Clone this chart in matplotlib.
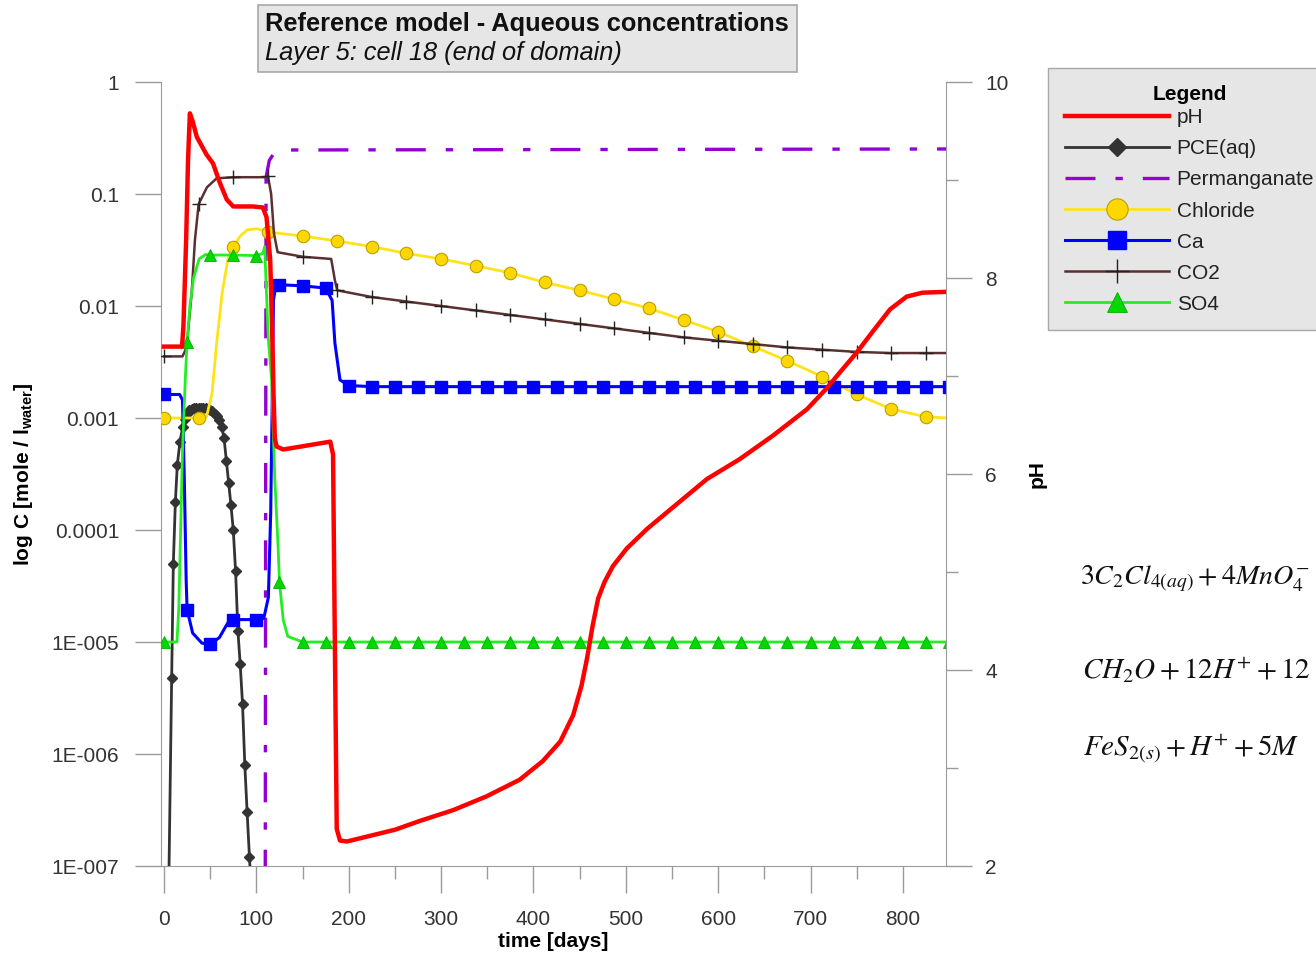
import numpy as np
import matplotlib
matplotlib.use('Agg')
import matplotlib.pyplot as plt
from matplotlib.patches import Rectangle
from matplotlib.ticker import FixedLocator, FixedFormatter, NullLocator

plt.rcParams['font.family'] = ['Liberation Sans', 'DejaVu Sans']
plt.rcParams['mathtext.fontset'] = 'custom'
plt.rcParams['mathtext.rm'] = 'Liberation Sans'
plt.rcParams['mathtext.bf'] = 'Liberation Sans:bold'
plt.rcParams['mathtext.it'] = 'Liberation Sans:italic'

# ---------------- data (time in days) ----------------
ph_t = [0, 19.5, 21, 24, 26, 28, 31, 35.5, 46, 53, 60.5, 68, 75, 96, 107, 111, 115, 117, 118.5,
        120, 122, 129, 180, 183, 185, 187, 190.5, 198, 250, 277, 313, 349, 385, 410, 429, 443,
        452, 458, 464, 470, 477, 486, 501, 523, 551, 588, 623, 659, 696, 717, 732, 750, 767,
        786, 804, 821, 850]
ph_val = [7.30, 7.30, 7.5, 8.4, 9.2, 9.68, 9.6, 9.44, 9.26, 9.17, 8.97, 8.80, 8.73, 8.73, 8.72,
          8.62, 8.18, 7.5, 6.84, 6.36, 6.28, 6.25, 6.33, 6.2, 4.24, 2.38, 2.26, 2.25, 2.37, 2.46,
          2.57, 2.71, 2.88, 3.07, 3.27, 3.54, 3.84, 4.12, 4.45, 4.73, 4.90, 5.06, 5.24, 5.44,
          5.66, 5.95, 6.15, 6.39, 6.66, 6.87, 7.04, 7.24, 7.45, 7.68, 7.81, 7.85, 7.86]

pce_t = [4.8, 8.3, 10.1, 12.3, 14.4, 17.3, 20.2, 22.5, 25, 27.5, 30, 32.5, 35, 37.5, 40, 42.5,
         45, 47.5, 50, 52.5, 55, 57.5, 60, 62.5, 65, 67.5, 70, 72.5, 75, 77.5, 80, 82.5, 85,
         87.5, 90, 92.5, 95]
pce_log = [-7.4, -5.32, -4.30, -3.75, -3.42, -3.21, -3.08, -3.01, -2.96, -2.93, -2.92, -2.91,
           -2.91, -2.91, -2.91, -2.91, -2.91, -2.92, -2.93, -2.94, -2.96, -2.98, -3.02, -3.08,
           -3.18, -3.38, -3.58, -3.78, -4.00, -4.37, -4.90, -5.20, -5.55, -6.10, -6.52, -6.92,
           -7.3]

mn_t = [108.5, 109.5, 110, 110.5, 114, 120, 135, 850]
mn_log = [-9.0, -8.0, -4.0, -0.85, -0.70, -0.625, -0.607, -0.598]

cl_t = [0, 37.5, 46, 52, 57, 63, 69, 75, 82, 90, 101, 112.5, 150, 187.5, 225, 262.5, 300,
        337.5, 375, 412.5, 450, 487.5, 525, 562.5, 600, 637.5, 675, 712.5, 750, 787.5, 825, 850]
cl_log = [-3.0, -3.0, -2.99, -2.78, -2.33, -1.88, -1.59, -1.47, -1.38, -1.32, -1.31, -1.34,
          -1.375, -1.42, -1.47, -1.53, -1.58, -1.64, -1.705, -1.79, -1.86, -1.94, -2.02,
          -2.125, -2.23, -2.36, -2.49, -2.63, -2.79, -2.92, -2.99, -3.0]
cl_mark_t = [0, 37.5, 75, 112.5, 150, 187.5, 225, 262.5, 300, 337.5, 375, 412.5, 450, 487.5,
             525, 562.5, 600, 637.5, 675, 712.5, 750, 787.5, 825]

ca_t = [0, 17, 20, 22, 24, 25, 31, 41, 50, 60, 69, 75, 90, 100, 108, 113, 115.5, 117, 118.5,
        121, 125, 150, 175, 182, 185, 190.5, 200, 225, 250, 275, 300, 325, 350, 375, 400, 425,
        450, 475, 500, 525, 550, 575, 600, 625, 650, 675, 700, 725, 750, 775, 800, 825, 850]
ca_log = [-2.79, -2.79, -2.84, -3.55, -4.45, -4.71, -4.92, -5.01, -5.02, -4.96, -4.83, -4.80,
          -4.80, -4.80, -4.79, -4.60, -3.85, -2.96, -1.95, -1.82, -1.81, -1.82, -1.84, -1.95,
          -2.33, -2.66, -2.71, -2.72, -2.72, -2.72, -2.72, -2.72, -2.72, -2.72, -2.72, -2.72,
          -2.72, -2.72, -2.72, -2.72, -2.72, -2.72, -2.72, -2.72, -2.72, -2.72, -2.72, -2.72,
          -2.72, -2.72, -2.72, -2.72, -2.72]
ca_mark_t = [0, 25, 50, 75, 100, 125, 150, 175, 200, 225, 250, 275, 300, 325, 350, 375, 400,
             425, 450, 475, 500, 525, 550, 575, 600, 625, 650, 675, 700, 725, 750, 775, 800,
             825, 850]

co2_t = [0, 20, 24.5, 30, 33.5, 37.5, 46.5, 57, 75, 100, 110, 112.5, 116, 119, 123, 150, 181,
         185, 187.5, 225, 262.5, 300, 337.5, 375, 412.5, 450, 487.5, 525, 562.5, 600, 637.5,
         675, 712.5, 750, 787.5, 825, 850]
co2_log = [-2.45, -2.45, -2.37, -1.88, -1.41, -1.09, -0.94, -0.86, -0.85, -0.85, -0.85, -0.84,
           -1.0, -1.35, -1.52, -1.56, -1.58, -1.77, -1.86, -1.92, -1.96, -2.00, -2.04, -2.08,
           -2.12, -2.16, -2.20, -2.24, -2.28, -2.31, -2.34, -2.37, -2.39, -2.41, -2.42, -2.42,
           -2.42]
co2_mark_t = cl_mark_t

so4_t = [0, 14, 16, 18, 20, 23, 25, 28, 32, 38, 45, 50, 75, 100, 107, 109, 111, 113, 116.5,
         120, 123.5, 125, 129, 134, 150, 175, 200, 225, 250, 275, 300, 325, 350, 375, 400, 425,
         450, 475, 500, 525, 550, 575, 600, 625, 650, 675, 700, 725, 750, 775, 800, 825, 850]
so4_log = [-5.0, -5.0, -4.7, -4.0, -3.3, -2.66, -2.32, -2.0, -1.75, -1.58, -1.54, -1.545,
           -1.545, -1.55, -1.53, -1.47, -1.9, -2.3, -2.66, -3.55, -4.15, -4.46, -4.80, -4.95,
           -5.0, -5.0, -5.0, -5.0, -5.0, -5.0, -5.0, -5.0, -5.0, -5.0, -5.0, -5.0, -5.0, -5.0,
           -5.0, -5.0, -5.0, -5.0, -5.0, -5.0, -5.0, -5.0, -5.0, -5.0, -5.0, -5.0, -5.0, -5.0,
           -5.0]
so4_mark_t = ca_mark_t

y_ticks = [1e-7, 1e-6, 1e-5, 1e-4, 1e-3, 1e-2, 1e-1, 1]
y_ticklabels = ['1E-007', '1E-006', '1E-005', '0.0001', '0.001', '0.01', '0.1', '1']
x_ticks = [0, 100, 200, 300, 400, 500, 600, 700, 800]
x_minor = [50, 150, 250, 350, 450, 550, 650, 750, 850]
ph_ticks = [2, 4, 6, 8, 10]
ph_minor = [3, 5, 7, 9]

series_labels = ['pH', 'PCE(aq)', 'Permanganate', 'Chloride', 'Ca', 'CO2', 'SO4']

# ---------------- figure ----------------
W, H = 1316, 956
fig = plt.figure(figsize=(W / 100, H / 100), dpi=100)
L, R, T, B = 161, 946, 82, 866
ax = fig.add_axes([L / W, 1 - B / H, (R - L) / W, (B - T) / H])
ax2 = ax.twinx()

def idx(ts, marks):
    return [i for i, t in enumerate(ts) if t in marks]

def conc(v):
    return 10.0 ** np.array(v)

h_pce, = ax.plot(pce_t, conc(pce_log), color='#333333', lw=2, marker='D', ms=5.5,
                 mfc='#333333', mec='#333333', zorder=3)
h_mn, = ax.plot(mn_t, conc(mn_log), color='#9400D3', lw=2.4, dashes=(9, 6, 2.2, 6), zorder=3)
h_cl, = ax.plot(cl_t, conc(cl_log), color='#FFE31A', lw=2, marker='o', ms=9,
                mfc='#FFD700', mec='#B8A000', mew=0.8, markevery=idx(cl_t, cl_mark_t), zorder=3)
h_ca, = ax.plot(ca_t, conc(ca_log), color='#0000FF', lw=2.2, marker='s', ms=8,
                mfc='#0000FF', mec='#0000FF', markevery=idx(ca_t, ca_mark_t), zorder=3)
h_co2, = ax.plot(co2_t, conc(co2_log), color='#5A3030', lw=1.8, marker='+', ms=10,
                 mec='#222222', mew=1.0, markevery=idx(co2_t, co2_mark_t), zorder=3)
h_so4, = ax.plot(so4_t, conc(so4_log), color='#22EE22', lw=2, marker='^', ms=8.5,
                 mfc='#00D800', mec='#00B000', mew=0.6, markevery=idx(so4_t, so4_mark_t), zorder=3)
h_ph, = ax2.plot(ph_t, ph_val, color='#FF0000', lw=3.2, zorder=4, solid_joinstyle='round')

ax.set_yscale('log')
ax.set_ylim(1e-7, 1)
ax.set_xlim(-3.25, 846.6)
ax2.set_ylim(2, 10)

spine_c = '#9a9a9a'
lab_c = '#333333'
for s in ['top', 'right']:
    ax.spines[s].set_visible(False)
for s in ['top', 'left', 'bottom']:
    ax2.spines[s].set_visible(False)
for s in ['left', 'bottom']:
    ax.spines[s].set_color(spine_c)
ax2.spines['right'].set_color(spine_c)

ax.yaxis.set_major_locator(FixedLocator(y_ticks))
ax.yaxis.set_major_formatter(FixedFormatter(y_ticklabels))
ax.yaxis.set_minor_locator(NullLocator())
ax.xaxis.set_major_locator(FixedLocator(x_ticks))
ax.xaxis.set_minor_locator(FixedLocator(x_minor))
ax2.yaxis.set_major_locator(FixedLocator(ph_ticks))
ax2.yaxis.set_minor_locator(FixedLocator(ph_minor))

ax.tick_params(axis='y', which='major', direction='out', length=18.7, width=1, color=spine_c,
               pad=11.5, labelsize=15, labelcolor=lab_c)
ax.tick_params(axis='x', which='major', direction='out', length=19.4, width=1, color=spine_c,
               pad=12, labelsize=15, labelcolor=lab_c)
ax.tick_params(axis='x', which='minor', direction='out', length=9.4, width=1, color=spine_c)
ax2.tick_params(axis='y', which='major', direction='out', length=18.7, width=1, color=spine_c,
                pad=9.4, labelsize=15, labelcolor=lab_c)
ax2.tick_params(axis='y', which='minor', direction='out', length=8.6, width=1, color=spine_c)

ax.set_xlabel('time [days]', fontsize=15, fontweight='bold')
ax.xaxis.set_label_coords(0.5, -0.084)
ax.set_ylabel(r'log C [mole / l$_{\mathbf{water}}$]', fontsize=15, fontweight='bold')
ax.yaxis.label.set_va('center')
ax.yaxis.label.set_ha('center')
ax.yaxis.set_label_coords((24 - L) / (R - L), 0.5)
ax2.set_ylabel('pH', fontsize=15, fontweight='bold', rotation=90)
ax2.yaxis.label.set_va('center')
ax2.yaxis.label.set_ha('center')
ax2.yaxis.set_label_coords((1037 - L) / (R - L), 0.5)

# title box
fig.patches.append(Rectangle((258 / W, 1 - 72 / H), (797 - 258) / W, (72 - 5) / H,
                             transform=fig.transFigure, facecolor='#E6E6E6',
                             edgecolor='#A8A8A8', lw=1.2, zorder=0))
fig.text(265 / W, 1 - 24 / H, 'Reference model - Aqueous concentrations', fontsize=18.3,
         fontweight='bold', va='center', ha='left', color='#111111')
fig.text(265 / W, 1 - 53 / H, 'Layer 5: cell 18 (end of domain)', fontsize=18.3,
         fontstyle='italic', va='center', ha='left', color='#111111')

# legend
handles = [h_ph, h_pce, h_mn, h_cl, h_ca, h_co2, h_so4]
leg = fig.legend(handles, series_labels, loc='upper left',
                 bbox_to_anchor=(1048 / W, 1 - 68 / H), bbox_transform=fig.transFigure,
                 title='Legend', title_fontproperties={'weight': 'bold', 'size': 15},
                 fontsize=15, frameon=True, fancybox=False, framealpha=1,
                 facecolor='#E6E6E6', edgecolor='#A8A8A8', handlelength=5.0,
                 handletextpad=0.38, labelspacing=0.58, borderpad=0.8, borderaxespad=0,
                 markerscale=1.7, numpoints=1)
leg._legend_box.sep = 3.3
for t in leg.get_texts():
    t.set_color('#222222')

# equations (clipped at figure edge as in the reference)
eq_kw = dict(math_fontfamily='stix', va='baseline', ha='left', color='#111111')
fig.text(1080 / W, 1 - 584 / H, r'$3C_2Cl_{4(aq)}+4MnO_4^{-}$', fontsize=20.2, **eq_kw)
fig.text(1082 / W, 1 - 679 / H, r'$CH_2O+12H^{+}+12$', fontsize=21, **eq_kw)
fig.text(1083 / W, 1 - 756 / H, r'$FeS_{2(s)}+H^{+}+5M$', fontsize=21, **eq_kw)

fig.savefig('out.png', dpi=100)
